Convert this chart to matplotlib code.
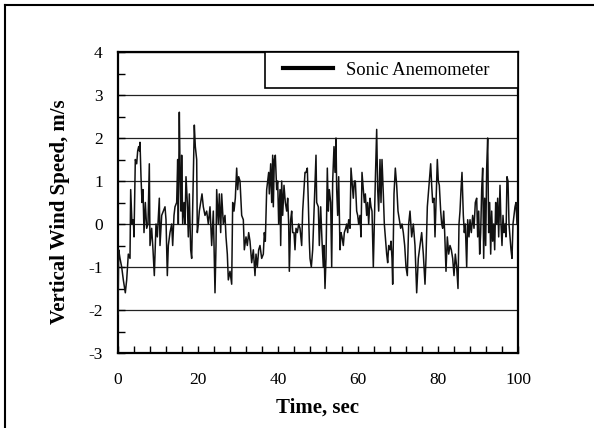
import matplotlib
matplotlib.use("Agg")
import matplotlib.pyplot as plt
from matplotlib.lines import Line2D
from matplotlib.patches import Rectangle
from matplotlib.ticker import MultipleLocator, FixedLocator

time_s = [
    0.0, 0.17, 0.5, 0.92, 1.33, 1.83, 2.17, 2.58, 3.0, 3.17, 3.5, 3.83, 4.0, 4.33, 4.67,
    4.92, 5.17, 5.33, 5.5, 5.75, 6.0, 6.25, 6.5, 6.83, 7.17, 7.5, 7.83, 8.0, 8.42, 8.75,
    9.08, 9.5, 9.83, 10.33, 10.5, 10.92, 11.33, 11.75, 12.0, 12.33, 12.58, 13.0, 13.42,
    13.67, 14.0, 14.25, 14.67, 14.92, 15.08, 15.33, 15.5, 15.75, 15.92, 16.17, 16.5,
    16.75, 17.0, 17.33, 17.58, 17.83, 18.17, 18.42, 18.67, 18.83, 19.08, 19.33, 19.67,
    19.83, 20.08, 20.33, 20.67, 21.0, 21.33, 21.75, 22.17, 22.58,
    23.0, 23.42, 23.83, 24.25, 24.5, 24.67, 25.08, 25.33, 25.67, 25.92, 26.33, 26.75,
    27.0, 27.33, 27.58, 28.0, 28.42, 28.67, 29.0, 29.33, 29.67, 29.92, 30.17, 30.5,
    30.92, 31.33, 31.58, 32.0, 32.33, 32.67, 33.0, 33.42, 33.83, 34.25, 34.5, 34.83,
    35.17, 35.5, 35.92, 36.33, 36.58, 36.83, 37.17, 37.42, 37.67, 37.83, 38.17, 38.42,
    38.67, 38.83, 39.08, 39.33, 39.67, 39.92, 40.17, 40.5, 40.67, 40.92, 41.17, 41.5,
    41.83, 42.17, 42.42, 42.67, 42.83, 43.17, 43.42, 43.67, 44.0, 44.25, 44.5, 44.83,
    45.17, 45.5, 45.92, 46.17, 46.5, 46.75, 47.0, 47.33, 47.58, 47.83,
    48.0, 48.33, 48.67, 49.0, 49.5, 49.67, 50.08, 50.33, 50.67, 51.0, 51.33, 51.5,
    51.75, 52.0, 52.33, 52.58, 52.83, 53.17, 53.42, 53.67, 54.0, 54.25, 54.5, 54.67,
    54.92, 55.17, 55.5, 55.75, 56.0, 56.33, 56.58, 56.92, 57.17, 57.42, 57.67, 58.0,
    58.25, 58.5, 58.83, 59.08, 59.33, 59.67, 59.92, 60.17, 60.5, 60.75, 61.0, 61.33,
    61.58, 61.83, 62.17, 62.42, 62.67, 63.0, 63.25, 63.5, 63.83, 64.08, 64.33, 64.67,
    64.92, 65.17, 65.5, 65.75, 66.0, 66.33, 66.58, 66.83, 67.17, 67.42, 67.67, 68.0,
    68.25, 68.5, 68.67, 69.0, 69.33, 69.67, 70.0, 70.33, 70.67, 71.0, 71.33, 71.67,
    72.0, 72.33, 72.67, 73.0,
    73.42, 73.83, 74.25, 74.67, 75.08, 75.5, 75.92, 76.33, 76.75, 77.0, 77.33, 77.58,
    77.83, 78.17, 78.42, 78.67, 79.0, 79.25, 79.5, 79.83, 80.08, 80.33, 80.67, 80.92,
    81.17, 81.42, 81.67, 82.0, 82.33, 82.67, 83.0, 83.33, 83.67, 84.0, 84.33, 84.67,
    85.0, 85.25, 85.5, 85.75, 86.0, 86.33, 86.58, 86.83, 87.17, 87.42, 87.75, 88.0,
    88.33, 88.67, 89.0, 89.33, 89.67, 89.92, 90.17, 90.42, 90.67, 90.92, 91.17, 91.42,
    91.67, 91.92, 92.17, 92.42, 92.67, 92.92, 93.17, 93.42, 93.67, 93.92, 94.17, 94.42,
    94.67, 94.92, 95.17, 95.5, 95.75, 96.0, 96.25, 96.5, 96.75, 97.0, 97.25, 97.5,
    97.75, 98.0, 98.25, 98.5, 98.75, 99.0, 99.25, 99.5, 99.75, 100.0,
]

wind_speed = [
    -2.1, -0.6, -0.8, -1.0, -1.3, -1.6, -1.3, -0.7, -0.8, 0.8, 0.0, 0.1, -0.3, 1.5, 1.4,
    1.7, 1.8, 1.7, 1.9, 1.1, 0.5, 0.8, -0.2, 0.5, -0.1, 0.0, 1.4, -0.5, -0.1, -0.6,
    -1.2, 0.0, -0.3, 0.6, -0.5, 0.2, 0.3, 0.4, 0.1, -1.2, -0.5, -0.2, 0.0,
    -0.5, 0.2, 0.4, 0.5, 1.5, 0.0, 2.6, 1.3, 0.3, 1.6, 0.0, 0.5,
    0.0, 1.1, 0.5, -0.3, 0.7, -0.6, -0.8, 0.4, 1.3, 2.3, 1.8, 1.5,
    -0.2, 0.0, 0.3, 0.5, 0.7, 0.4, 0.2, 0.3, 0.0,
    0.4, -0.5, 0.3, -1.6, -0.5, 0.8, 0.0, 0.7, -0.2, 0.7, 0.0, 0.2,
    -0.3, -0.7, -1.3, -1.1, -1.4, 0.5, 0.3, 0.6, 1.3, 0.8, 1.1, 1.0,
    0.2, 0.1, -0.6, -0.3, -0.5, -0.2, -0.4, -0.9, -0.6, -1.2, -0.7, -1.0,
    -0.6, -0.5, -0.8, -0.7, -0.2, -0.4, 0.8, 1.0, 1.2, 0.7, 1.4, 0.5,
    1.6, 0.4, 1.5, 1.6, 0.8, 1.0, 0.0, 0.8, -0.5, 1.0, 0.2, 0.9,
    0.5, 0.3, 0.6, 0.0, -1.1, 0.1, 0.3, -0.2, -0.2, -0.6, -0.1, -0.2,
    0.0, -0.1, -0.5, 0.3, 0.8, 1.2, 1.2, 1.3, 0.5, -0.4,
    -0.8, -1.0, -0.6, 0.3, 1.6, 0.5, 0.4, -0.5, 0.4, -0.4, -1.0, -0.5,
    -1.5, -0.8, 1.3, 0.3, 0.8, 0.5, -1.0, 1.0, 1.8, 1.2, 2.0, 0.8,
    0.2, 1.1, -0.6, -0.2, -0.3, -0.5, -0.2, -0.1, 0.0, -0.2, 0.1, -0.1,
    1.3, 1.0, 0.6, 1.0, 1.0, 0.3, 0.2, 0.0, 0.2, -0.3, 1.2, 0.8,
    0.5, 0.7, 0.2, 0.5, 0.0, 0.6, 0.4, 0.3, -1.0, 0.0, 1.0, 2.2,
    0.8, 0.3, 1.5, 0.5, 1.5, 0.7, 0.0, -0.3, -0.7, -0.9, -0.5, -0.6,
    -0.4, -0.8, -1.4, 0.7, 1.3, 0.9, 0.3, 0.1, -0.1, 0.0, -0.2, -0.5,
    -1.0, -1.2, 0.0, 0.3,
    -0.3, 0.0, -0.5, -1.6, -0.8, -0.5, -0.2, -0.7, -1.4, -0.8, 0.4, 0.7,
    1.0, 1.4, 0.9, 0.5, 0.6, -0.3, 0.5, 1.5, 1.0, 0.9, 0.3, 0.0,
    -0.1, 0.3, -0.2, -1.1, -0.3, -0.7, -0.5, -0.6, -0.8, -1.2, -0.7, -1.0,
    -1.5, 0.0, 0.3, 0.8, 1.2, 0.2, -0.2, 0.0, -1.0, 0.1, -0.3, 0.1,
    -0.2, 0.2, -0.1, 0.5, 0.6, -0.3, 0.3, -0.7, -0.2, 0.8, 1.3, -0.8,
    0.6, -0.5, 1.3, 2.0, -0.2, 0.5, -0.7, 0.3, -0.4, 0.0, -0.6, 0.5,
    0.0, 0.6, -0.3, 0.9, 0.0, -0.5, 0.2, -0.2, 0.0, -0.3, 1.1, 1.0,
    0.0, -0.3, -0.6, -0.8, 0.0, 0.2, 0.4, 0.5, 0.0, 0.5,
]

series_label = "Sonic Anemometer"
x_ticks = [0, 20, 40, 60, 80, 100]
y_ticks = [-3, -2, -1, 0, 1, 2, 3, 4]

plt.rcParams['font.family'] = ['Liberation Serif', 'DejaVu Serif']

W, H = 594, 428
fig = plt.figure(figsize=(W / 100, H / 100), dpi=100)
ax = fig.add_axes([118 / W, 1 - 353 / H, (518 - 118) / W, (353 - 52) / H])

ax.plot(time_s, wind_speed, color='#111111', lw=1.1, label=series_label, zorder=3)

ax.set_xlim(0, 100)
ax.set_ylim(-3, 4)
ax.xaxis.set_major_locator(FixedLocator(x_ticks))
ax.xaxis.set_minor_locator(MultipleLocator(4))
ax.yaxis.set_major_locator(FixedLocator(y_ticks))
ax.yaxis.set_minor_locator(MultipleLocator(0.5))
ax.set_xticklabels([str(v) for v in x_ticks])
ax.set_yticklabels([str(v) for v in y_ticks])

ax.tick_params(axis='both', which='both', direction='in', length=5, width=1,
               labelsize=12.5, colors='black')
ax.tick_params(axis='y', which='major', pad=11)
ax.tick_params(axis='x', which='major', pad=14)
ax.tick_params(top=False, right=False)

ax.grid(True, axis='y', which='major', color='#222222', lw=0.9, zorder=1)
for s in ax.spines.values():
    s.set_linewidth(1.6)
    s.set_color('black')

ax.set_xlabel('Time, sec', fontsize=15, fontweight='bold')
ax.xaxis.set_label_coords(0.5, -0.148)
ax.set_ylabel('Vertical Wind Speed, m/s', fontsize=15, fontweight='bold')
ax.yaxis.set_label_coords(-0.12, 0.47)

# legend box
box_x0 = (265 - 118) / 400
box_y0 = (353 - 88) / 301
ax.add_patch(Rectangle((box_x0, box_y0), 1 - box_x0, 1 - box_y0, transform=ax.transAxes,
                       facecolor='white', edgecolor='black', lw=1.2, zorder=6,
                       clip_on=False))
handle = Line2D([], [], color='black', lw=3)
leg = ax.legend([handle], [series_label], loc='center left',
                bbox_to_anchor=((283 - 118) / 400, (box_y0 + 1) / 2),
                borderaxespad=0, borderpad=0, fontsize=13.4, frameon=False,
                handlelength=2.7, handletextpad=0.7)
leg.set_zorder(7)

# outer figure frame (top and left edges)
fig.add_artist(Line2D([5 / W, 1.0], [1 - 5 / H, 1 - 5 / H], color='black', lw=1.5,
                      transform=fig.transFigure))
fig.add_artist(Line2D([5 / W, 5 / W], [0.0, 1 - 5 / H], color='black', lw=1.5,
                      transform=fig.transFigure))

fig.savefig('out.png', dpi=100)
